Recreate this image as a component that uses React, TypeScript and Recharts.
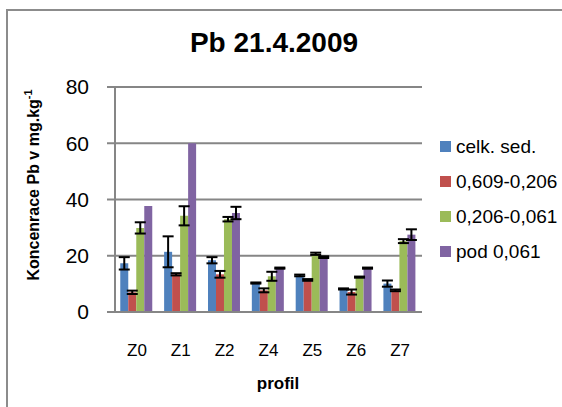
import React from 'react';
import { BarChart, Bar, XAxis, YAxis, CartesianGrid, ErrorBar, Label } from 'recharts';

const profily = ['Z0', 'Z1', 'Z2', 'Z4', 'Z5', 'Z6', 'Z7'];
const nazvySerii = ['celk. sed.', '0,609-0,206', '0,206-0,061', 'pod 0,061'];
const barvy = ['#4F81BD', '#C0504D', '#9BBB59', '#8064A2'];

const celkSed = [17.3, 21.4, 18.4, 10.3, 13.0, 8.2, 10.1];
const celkSedChyba = [2.2, 5.5, 1.1, 0.2, 0.3, 0.2, 1.1];
const frakce609 = [7.0, 13.4, 13.4, 7.7, 11.4, 7.1, 7.7];
const frakce609Chyba = [0.6, 0.4, 1.2, 0.7, 0.3, 0.9, 0.3];
const frakce206 = [29.9, 34.2, 33.0, 12.7, 20.7, 12.4, 25.2];
const frakce206Chyba = [2.0, 3.4, 0.8, 1.6, 0.4, 0.2, 0.7];
const pod061 = [37.7, 60.0, 35.2, 15.6, 19.5, 15.6, 27.5];
const pod061Chyba = [null, null, 2.2, 0.2, 0.3, 0.2, 1.9];

const yTicks = [0, 20, 40, 60, 80];

const hodnoty = [celkSed, frakce609, frakce206, pod061];
const chyby = [celkSedChyba, frakce609Chyba, frakce206Chyba, pod061Chyba];

const data = profily.map((p, i) => {
  const row: Record<string, any> = { profil: p };
  hodnoty.forEach((h, s) => {
    row['s' + s] = h[i];
    row['e' + s] = chyby[s][i];
  });
  return row;
});

const FONT = '"Liberation Sans", Arial, sans-serif';

export default function App() {
  return (
    <div style={{ position: 'absolute', left: 0, top: 0, width: 562, height: 407, background: '#fff', fontFamily: FONT }}>
      <div style={{ position: 'absolute', left: 6, top: 9, width: 600, height: 450, border: '2px solid #8c8c8c' }} />
      <div style={{ position: 'absolute', left: 0, top: 27, width: 548, textAlign: 'center', fontSize: 28, fontWeight: 'bold', color: '#000' }}>
        Pb 21.4.2009
      </div>
      <div style={{ position: 'absolute', left: 0, top: 0 }}>
        <BarChart
          width={562}
          height={407}
          data={data}
          margin={{ top: 87, right: 140, left: 55, bottom: 35 }}
          barGap={0}
          barCategoryGap="12%"
        >
          <CartesianGrid vertical={false} stroke="#868686" strokeWidth={2} />
          <XAxis
            dataKey="profil"
            height={60}
            tickLine={false}
            axisLine={{ stroke: '#868686', strokeWidth: 2 }}
            tick={{ fontSize: 17, fill: '#000', fontFamily: FONT }}
            tickMargin={26}
          >
            <Label
              content={() => (
                <text x={278} y={389} textAnchor="middle" fontSize={17} fontWeight="bold" fontFamily={FONT} fill="#000">
                  profil
                </text>
              )}
            />
          </XAxis>
          <YAxis
            width={60}
            domain={[0, 80]}
            ticks={yTicks}
            interval={0}
            tickSize={8}
            tickMargin={18}
            tickLine={{ stroke: '#868686', strokeWidth: 2 }}
            axisLine={{ stroke: '#868686', strokeWidth: 2 }}
            tick={{ fontSize: 21, fill: '#000', fontFamily: FONT }}
          >
            <Label
              content={() => (
                <text
                  x={39}
                  y={185}
                  transform="rotate(-90 39 185)"
                  textAnchor="middle"
                  fontSize={16}
                  fontWeight="bold"
                  fontFamily={FONT}
                  fill="#000"
                >
                  Koncenrace Pb v mg.kg
                  <tspan dy={-7} fontSize={11}>-1</tspan>
                </text>
              )}
            />
          </YAxis>
          {nazvySerii.map((n, s) => (
            <Bar key={n} dataKey={'s' + s} name={n} fill={barvy[s]} isAnimationActive={false}>
              <ErrorBar dataKey={'e' + s} width={5.5} stroke="#000" strokeWidth={2} />
            </Bar>
          ))}
        </BarChart>
      </div>
      <div style={{ position: 'absolute', left: 440, top: 129 }}>
        {nazvySerii.map((n, s) => (
          <div key={n} style={{ display: 'flex', alignItems: 'center', height: 35, fontSize: 19, color: '#000', whiteSpace: 'nowrap' }}>
            <span style={{ display: 'inline-block', width: 11, height: 11, background: barvy[s], marginRight: 5 }} />
            {n}
          </div>
        ))}
      </div>
    </div>
  );
}
